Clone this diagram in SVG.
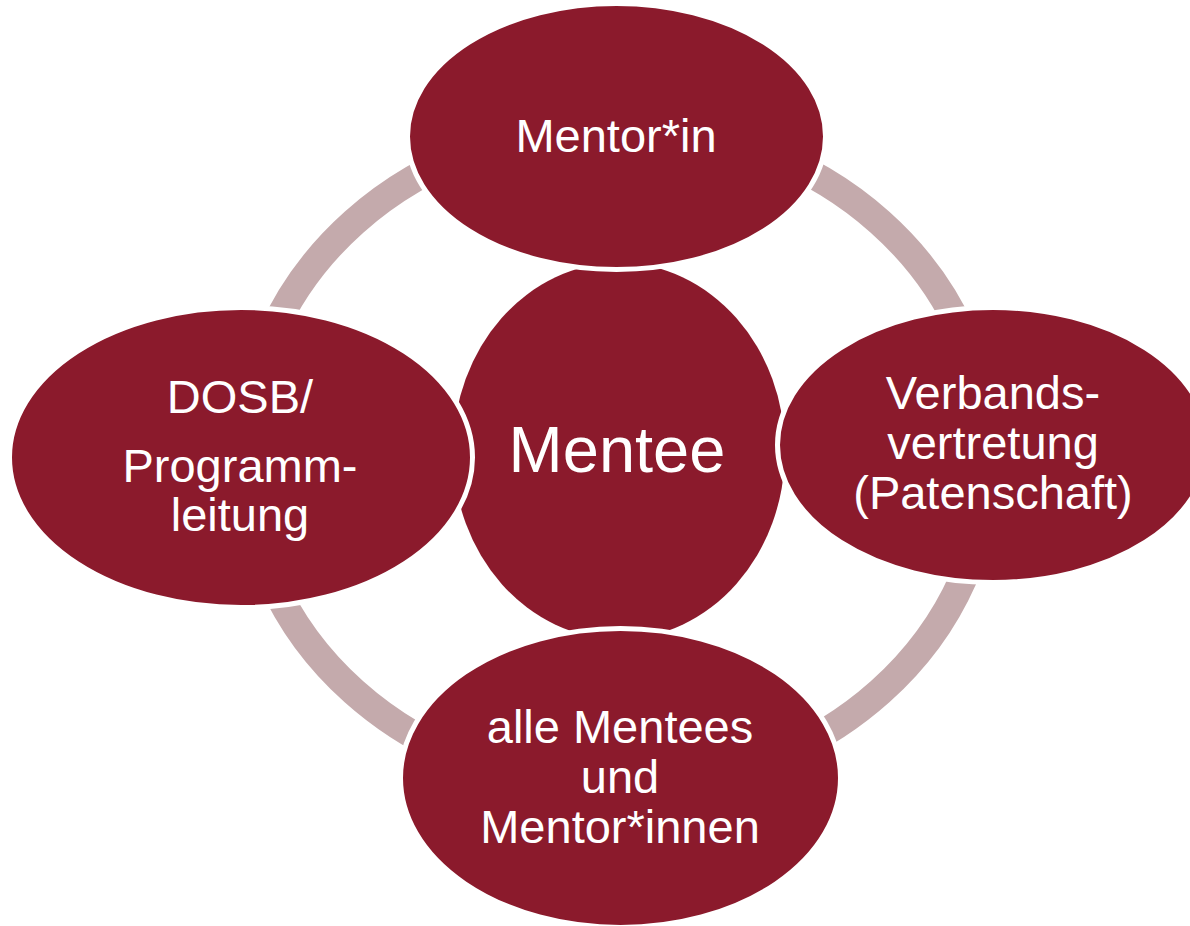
<svg xmlns="http://www.w3.org/2000/svg" width="1190" height="926" viewBox="0 0 1190 926">
  <style>
    .ring { fill: none; stroke: #C4AAAC; stroke-width: 28; stroke-linecap: butt; }
    .node { fill: #8B1A2C; stroke: #FFFFFF; stroke-width: 5; }
    .hub { fill: #8B1A2C; }
    .label { fill: #FFFFFF; font-family: "Liberation Sans", Arial, sans-serif; font-size: 47px; text-anchor: middle; }
    .hub-label { font-size: 65px; }
  </style>
  <rect width="1190" height="926" fill="#FFFFFF"/>

  <!-- cycle connectors: four quarter arcs of one ring, ends tucked under the nodes -->
  <g id="connectors">
    <path class="ring" d="M 245 457 A 372 332 0 0 1 617 125"/>
    <path class="ring" d="M 617 125 A 372 332 0 0 1 989 457"/>
    <path class="ring" d="M 989 457 A 372 332 0 0 1 617 789"/>
    <path class="ring" d="M 617 789 A 372 332 0 0 1 245 457"/>
  </g>

  <!-- central node -->
  <g id="node-mentee">
    <ellipse class="hub" cx="619" cy="451" rx="166" ry="188"/>
    <text class="label hub-label" x="617" y="471.5">Mentee</text>
  </g>

  <!-- outer nodes -->
  <g id="node-mentorin">
    <ellipse class="node" cx="616.5" cy="136.5" rx="209" ry="133"/>
    <text class="label" x="616" y="152">Mentor*in</text>
  </g>

  <g id="node-verband">
    <ellipse class="node" cx="993" cy="445" rx="215.5" ry="137.5"/>
    <text class="label" x="993" y="409">Verbands-</text>
    <text class="label" x="993" y="459">vertretung</text>
    <text class="label" x="993" y="509">(Patenschaft)</text>
  </g>

  <g id="node-alle">
    <ellipse class="node" cx="620.5" cy="778" rx="220" ry="149.5"/>
    <text class="label" x="620" y="743">alle Mentees</text>
    <text class="label" x="620" y="793">und</text>
    <text class="label" x="620" y="843">Mentor*innen</text>
  </g>

  <g id="node-dosb">
    <ellipse class="node" cx="241" cy="457.5" rx="231.5" ry="150"/>
    <text class="label" x="240" y="412.5">DOSB/</text>
    <text class="label" x="240" y="481.5">Programm-</text>
    <text class="label" x="240" y="530.5">leitung</text>
  </g>
</svg>
